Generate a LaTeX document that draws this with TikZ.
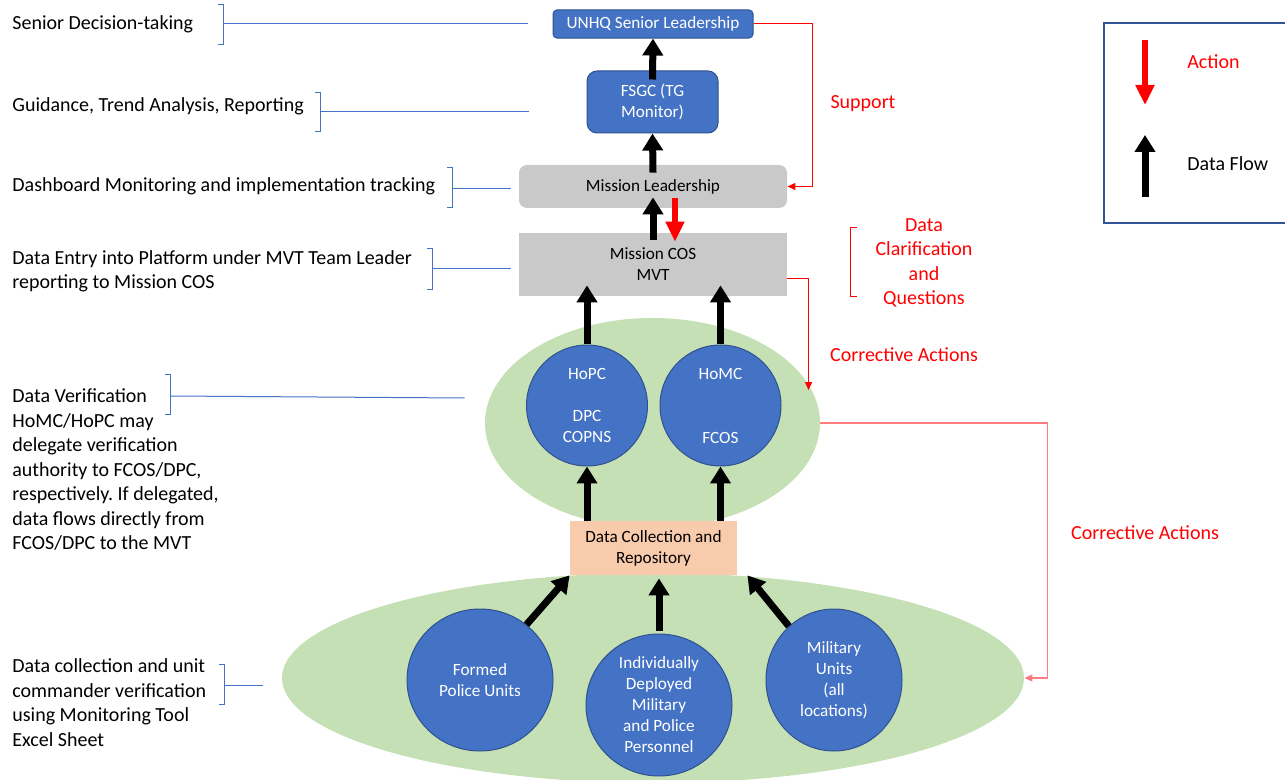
\documentclass[tikz,border=0pt]{standalone}
\usepackage{fontspec}
\setmainfont{Carlito}
\usetikzlibrary{shapes.geometric,arrows.meta}
\frenchspacing

\definecolor{boxblue}{HTML}{4472C4}
\definecolor{boxedge}{HTML}{2F528F}
\definecolor{boxgrey}{HTML}{C9C9C9}
\definecolor{ovalgreen}{HTML}{C5E0B4}
\definecolor{peach}{HTML}{F8CBAD}
\definecolor{palered}{HTML}{FF7C80}
\definecolor{legendedge}{HTML}{2F5597}

\newcommand{\lblfont}{\fontsize{10}{12.25}\selectfont}
\newcommand{\boxtxt}{\fontsize{8.6}{10.5}\selectfont}

\tikzset{
  bluebox/.style={draw=boxedge, fill=boxblue, text=white, line width=0.5pt, font=\boxtxt, align=center},
  greybox/.style={fill=boxgrey, text=black, font=\boxtxt, align=center},
  oval/.style={ellipse, fill=ovalgreen, inner sep=0pt},
  bluecirc/.style={ellipse, draw=boxedge, fill=boxblue, line width=0.5pt, inner sep=0pt},
  circtext/.style={text=white, font=\boxtxt, align=center},
  lbl/.style={anchor=west, inner sep=0pt, align=left, font=\lblfont},
  redlbl/.style={text=red, inner sep=0pt, font=\lblfont},
  bracketline/.style={draw=boxblue, line width=0.5pt},
  flow/.style={draw=black, line width=3.5pt, -{Triangle[width=10pt,length=8.5pt]}},
  action/.style={draw=red, line width=3pt, -{Triangle[width=9pt,length=10pt]}},
  support/.style={draw=red, line width=0.5pt, -{Triangle[width=3.5pt,length=4pt]}},
  feedback/.style={draw=palered, line width=0.6pt, -{Triangle[width=3.5pt,length=4pt]}}
}

\begin{document}
\begin{tikzpicture}[x=0.5pt,y=-0.5pt]
\useasboundingbox (0,0) rectangle (1285,780);

%green ovals
\node[oval, minimum width=167.5pt, minimum height=105pt] (verif) at (652.5,423) {};
\node[oval, minimum width=371pt, minimum height=105pt] (units) at (653,678) {};

%boxes
\node[bluebox, rounded corners=2pt, minimum width=100pt, minimum height=13pt] (unhq) at (653,24) {UNHQ Senior Leadership};
\node[bluebox, rounded corners=5pt, minimum width=65.5pt, minimum height=31pt] (fsgc) at (652.5,102) {FSGC (TG\\Monitor)};
\node[greybox, rounded corners=4pt, minimum width=134pt, minimum height=21.5pt] (mlead) at (653,186.5) {Mission Leadership};
\node[greybox, minimum width=134pt, minimum height=31.5pt] (mvt) at (653,264.5) {Mission COS\\MVT};
\node[fill=peach, font=\boxtxt, align=center, minimum width=83.5pt, minimum height=27pt] (data) at (653.5,548) {Data Collection and\\Repository};

%circles
\node[bluecirc, minimum width=60.5pt, minimum height=60.5pt, label={[circtext]center:{HoPC\\[10.5pt]DPC\\COPNS}}] (hopc) at (587,405.5) {};
\node[bluecirc, minimum width=60.5pt, minimum height=60.5pt, label={[circtext]center:{HoMC\\[21.5pt]FCOS}}] (homc) at (720.5,405.5) {};
\node[bluecirc, minimum width=73pt, minimum height=71pt, label={[circtext]center:{Formed\\Police Units}}] (formed) at (480,680) {};
\node[bluecirc, minimum width=73pt, minimum height=71pt, label={[circtext]center:{Individually\\Deployed\\Military\\and Police\\Personnel}}] (indiv) at (659,705) {};
\node[bluecirc, minimum width=68pt, minimum height=71pt, label={[circtext]center:{Military\\Units\\(all\\locations)}}] (military) at (834,680) {};

%data flow
\draw[flow] ([yshift=-4.5pt]fsgc.north) -- (unhq.south);
\draw[flow] ([yshift=-4pt]mlead.north) -- (fsgc.south);
\draw[flow] ([yshift=-3.5pt]mvt.north) -- ([yshift=5.5pt]mlead.south);
\draw[action] ([xshift=11pt,yshift=5pt]mlead.south) -- ([xshift=11pt,yshift=-4.5pt]mvt.north);
\draw[flow] (hopc.north) -- ([yshift=5.5pt]hopc.north |- mvt.south);
\draw[flow] (homc.north) -- ([yshift=5.5pt]homc.north |- mvt.south);
\draw[flow] (data.north -| hopc) -- (hopc.south);
\draw[flow] (data.north -| homc) -- (homc.south);
\draw[flow] (formed.50) -- (data.south west);
\draw[flow] ([yshift=1.5pt]indiv.north) -- ([yshift=-1.5pt]indiv.north |- data.south);
\draw[flow] (military.130) -- ([xshift=5pt]data.south east);

%red feedback lines
\draw[support] (unhq.east) -- ++(59,0) |- (mlead.east);
\draw[support] ([yshift=-7pt]mvt.east) -| ([yshift=-3pt]verif.14);
\draw[feedback] (verif.east) -- ++(227,0) |- (units.east);

\node[redlbl] (support) at (863,104) {Support};
\node[redlbl, align=center] (clarify) at (924,263) {Data\\Clarification\\and\\Questions};
\draw[red, line width=0.5pt] (857,228) -- (850,228) -- (850,297) -- (857,297);
\node[redlbl] (corr1) at (904,355) {Corrective Actions};
\node[redlbl] (corr2) at (1145,533) {Corrective Actions};

%legend
\draw[legendedge, line width=0.75pt] (1104,23) rectangle (1295,223);
\coordinate (acttop) at (1145,40);
\coordinate (acttip) at (1145,105);
\draw[action] (acttop) -- (acttip);
\coordinate (flowbot) at (1145,197);
\coordinate (flowtip) at (1145,135);
\draw[flow] (flowbot) -- (flowtip);
\node[redlbl, anchor=west] (actlbl) at (1187,62) {Action};
\node[lbl] (flowlbl) at (1187,164) {Data Flow};

%left labels
\node[lbl] (senior) at (12,24) {Senior Decision-taking};
\node[lbl] (guide) at (12,106) {Guidance, Trend Analysis, Reporting};
\node[lbl] (dash) at (12,186) {Dashboard Monitoring and implementation tracking};
\node[lbl] (entry) at (12,271.5) {Data Entry into Platform under MVT Team Leader\\reporting to Mission COS};
\node[lbl] (verify) at (12,470) {Data Verification\\HoMC/HoPC may\\delegate verification\\authority to FCOS/DPC,\\respectively. If delegated,\\data flows directly from\\FCOS/DPC to the MVT};
\node[lbl] (collect) at (12,702.5) {Data collection and unit\\commander verification\\using Monitoring Tool\\Excel Sheet};

%brackets
\draw[bracketline] (218,5) -- (223,5) -- (223,45) -- (218,45);
\coordinate (b1) at (223,24);
\draw[bracketline] (b1) -- ([xshift=-12.5pt]unhq.west);

\draw[bracketline] (315,93) -- (320,93) -- (320,132) -- (315,132);
\coordinate (b2) at (320,112);
\draw[bracketline] (b2) -- ([xshift=-29pt]b2 -| fsgc.west);

\draw[bracketline] (447,168) -- (452,168) -- (452,208) -- (447,208);
\coordinate (b3) at (452,189);
\draw[bracketline] (b3) -- ([xshift=-4pt]b3 -| mlead.west);

\draw[bracketline] (427,249) -- (432,249) -- (432,290) -- (427,290);
\coordinate (b4) at (432,269);
\draw[bracketline] (b4) -- ([xshift=-4pt]b4 -| mvt.west);

\draw[bracketline] (165,375) -- (170,375) -- (170,415) -- (165,415);
\coordinate (b5) at (170,396);
\draw[bracketline] (b5) -- ([xshift=-10pt,yshift=12.5pt]verif.west);

\draw[bracketline] (219,664) -- (224,664) -- (224,704) -- (219,704);
\coordinate (b6) at (224,685);
\draw[bracketline] (b6) -- ([xshift=-9.5pt]b6 -| units.west);

\end{tikzpicture}
\end{document}
